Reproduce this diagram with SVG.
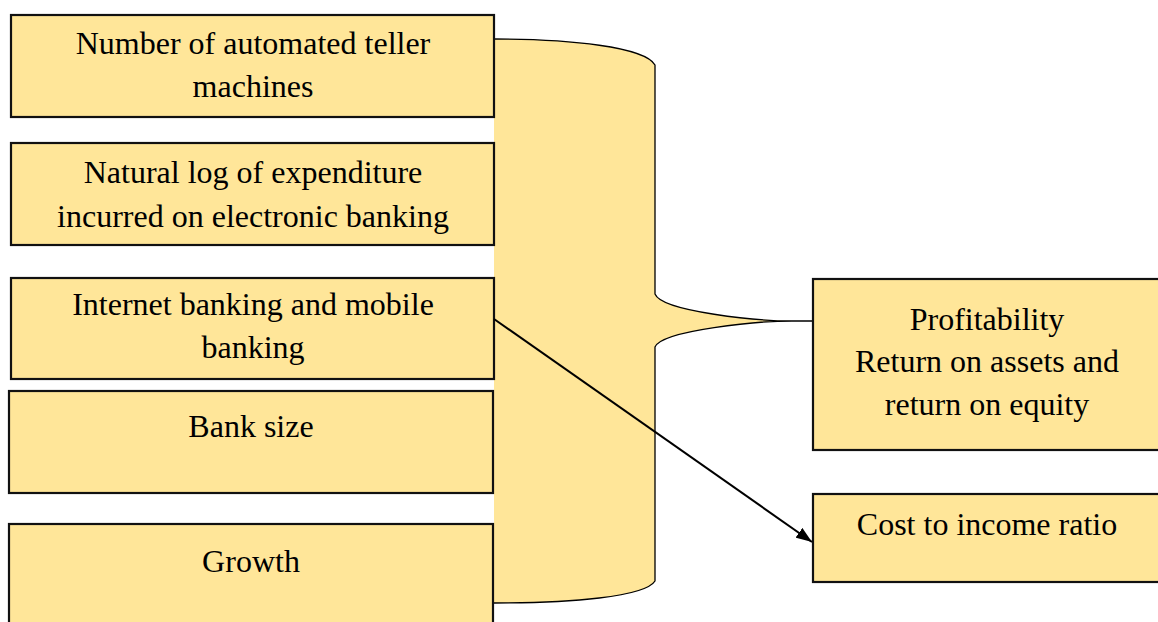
<svg xmlns="http://www.w3.org/2000/svg" width="1158" height="622" viewBox="0 0 1158 622">
<style>
.box{fill:#FFE699;stroke:#111;stroke-width:2.2}
.t{font-family:"Liberation Serif","Times New Roman",serif;font-size:32px;fill:#000;text-anchor:middle}
</style>
<defs>
<marker id="ah" viewBox="0 0 16 12" refX="16" refY="6" markerWidth="16" markerHeight="12" orient="auto" markerUnits="userSpaceOnUse">
<path d="M0,0 L16,6 L0,12 Z" fill="#000"/>
</marker>
</defs>
<rect width="1158" height="622" fill="#fff"/>
<g id="brace">
<path d="M494,39 C570,39 645,47 655,65 L655,294 C662,312 760,321 792,321 L813,321 L792,321 C760,321 662,330 655,347 L655,581 C645,597 570,603 494,603 Z" fill="#FFE699" stroke="none"/>
<path d="M494,39 C570,39 645,47 655,65 L655,294 C662,312 760,321 792,321 L813,321 M792,321 C760,321 662,330 655,347 L655,581 C645,597 570,603 494,603" fill="none" stroke="#000" stroke-width="1.3"/>
</g>
<g id="n1"><rect class="box" x="11" y="15" width="483" height="102"/><text class="t" x="253" y="54">Number of automated teller</text><text class="t" x="253" y="97">machines</text></g>
<g id="n2"><rect class="box" x="11" y="143" width="483" height="102"/><text class="t" x="253" y="183">Natural log of expenditure</text><text class="t" x="253" y="227">incurred on electronic banking</text></g>
<g id="n3"><rect class="box" x="11" y="278" width="483" height="101"/><text class="t" x="253" y="315">Internet banking and mobile</text><text class="t" x="253" y="358">banking</text></g>
<g id="n4"><rect class="box" x="9" y="391" width="484" height="102"/><text class="t" x="251" y="437">Bank size</text></g>
<g id="n5"><rect class="box" x="9" y="524" width="484" height="110"/><text class="t" x="251" y="572">Growth</text></g>
<g id="n6"><rect class="box" x="813" y="279" width="350" height="171"/><text class="t" x="987" y="330">Profitability</text><text class="t" x="987" y="372">Return on assets and</text><text class="t" x="987" y="415">return on equity</text></g>
<g id="n7"><rect class="box" x="813" y="494" width="350" height="88"/><text class="t" x="987" y="535">Cost to income ratio</text></g>
<g id="connectors">
<line x1="494" y1="319" x2="812" y2="542" stroke="#000" stroke-width="2" marker-end="url(#ah)"/>
</g>
</svg>
